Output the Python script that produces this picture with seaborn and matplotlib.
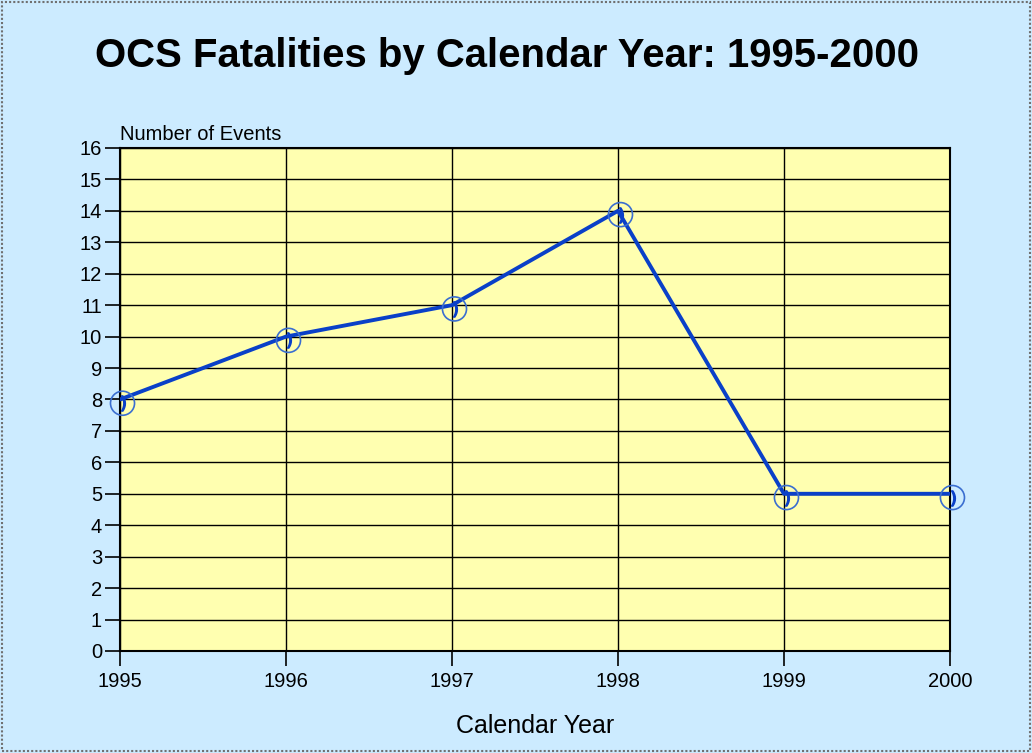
import matplotlib
matplotlib.use("Agg")
import matplotlib.pyplot as plt
import seaborn as sns
import pandas as pd
from matplotlib.patches import Rectangle

years = ["1995", "1996", "1997", "1998", "1999", "2000"]
fatalities = [8, 10, 11, 14, 5, 5]
y_ticks = list(range(0, 17))

sns.set_theme(style="white")
plt.rcParams["font.family"] = ["Liberation Sans", "DejaVu Sans"]

df = pd.DataFrame({"year": range(len(years)), "events": fatalities})

fig = plt.figure(figsize=(10.32, 7.53), dpi=100, facecolor="#CCEBFF")
ax = fig.add_axes([0.1163, 0.1355, 0.8042, 0.668])
ax.set_facecolor("#FFFFB0")

sns.lineplot(data=df, x="year", y="events", ax=ax, color="#0A40C8", linewidth=2.8,
             zorder=3)
# circled handset markers
ax.scatter(df["year"] + 0.015, df["events"] - 0.12, s=300, facecolors="none",
           edgecolors="#3A6ED0", linewidths=1.2, zorder=4, clip_on=False)
ax.scatter(df["year"] + 0.02, df["events"] - 0.12, s=120, marker="$)$",
           color="#0A40C8", zorder=5, clip_on=False)

ax.set_xlim(0, len(years) - 1)
ax.set_ylim(0, 16)
ax.set_xticks(range(len(years)))
ax.set_xticklabels(years)
ax.set_yticks(y_ticks)
ax.grid(True, color="black", linewidth=1.0)
ax.set_axisbelow(True)
for s in ax.spines.values():
    s.set_color("black")
    s.set_linewidth(1.5)

ax.tick_params(axis="both", direction="out", length=11, width=1.2, color="black",
               labelsize=14.5, labelcolor="black", pad=4, bottom=True, left=True)
ax.tick_params(axis="y", pad=2)
ax.set_xlabel("Calendar Year", fontsize=18, color="black", labelpad=17)
ax.set_ylabel("")
ax.text(0.0, 1.008, "Number of Events", transform=ax.transAxes, fontsize=14.5,
        ha="left", va="bottom", color="black")

fig.text(0.491, 0.925, "OCS Fatalities by Calendar Year: 1995-2000", ha="center",
         va="center", fontsize=28.9, fontweight="bold", color="black")

fig.patches.append(Rectangle((0.002, 0.002), 0.996, 0.996, transform=fig.transFigure,
                             fill=False, edgecolor="#707070", linewidth=1.5,
                             linestyle=(0, (1, 1))))

fig.savefig("out.png", dpi=100, facecolor=fig.get_facecolor())
